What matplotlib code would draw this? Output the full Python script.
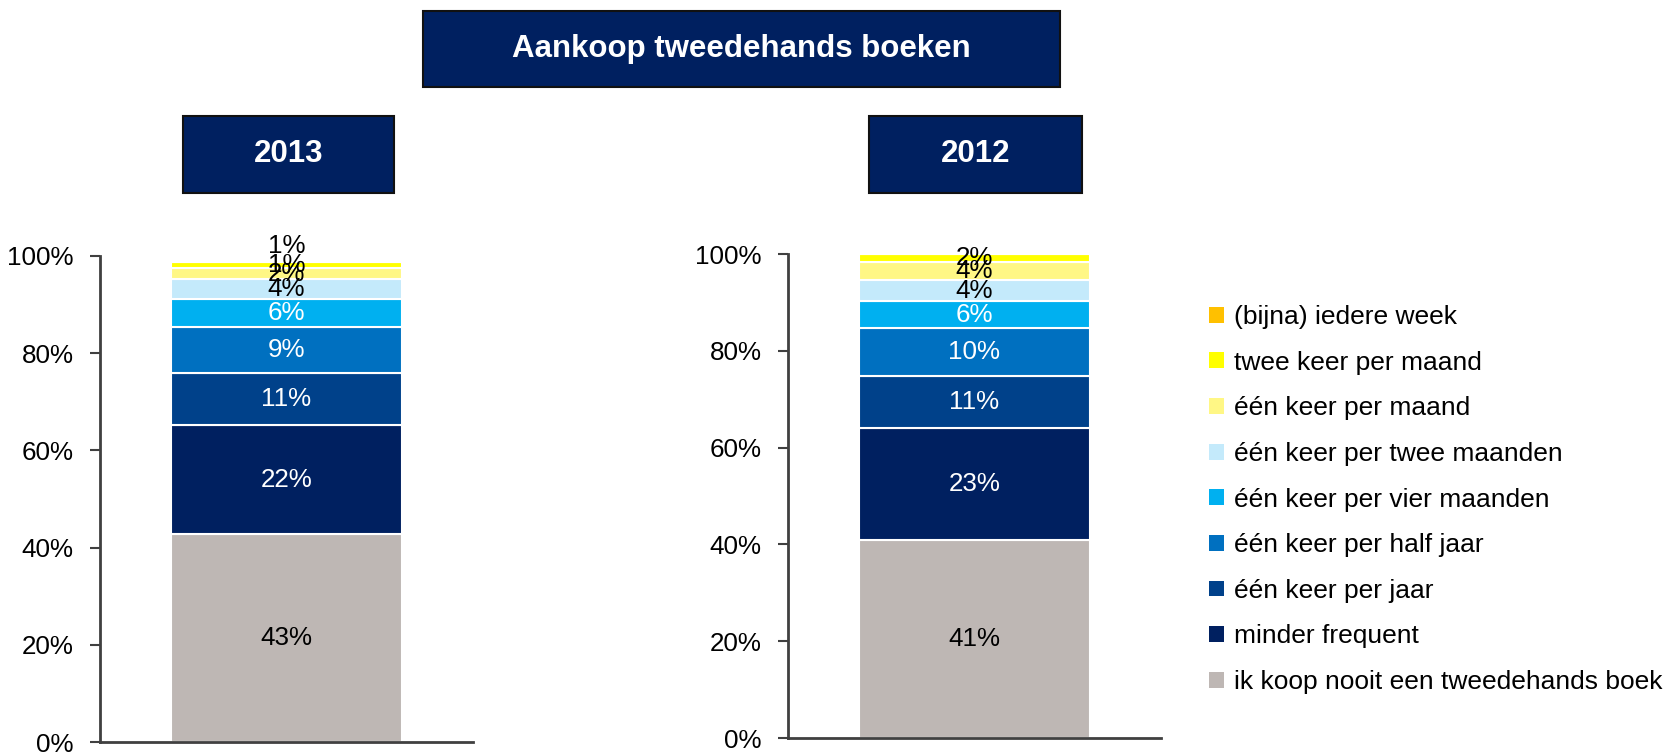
import numpy as np
import matplotlib.pyplot as plt
from matplotlib.patches import Rectangle, Patch

plt.rcParams['font.family'] = ['Liberation Sans', 'DejaVu Sans']

# categories, bottom of the stack first
categories = ['ik koop nooit een tweedehands boek', 'minder frequent', 'één keer per jaar',
              'één keer per half jaar', 'één keer per vier maanden', 'één keer per twee maanden',
              'één keer per maand', 'twee keer per maand', '(bijna) iedere week']
colors = ['#BEB7B4', '#002060', '#00418A', '#0070C0', '#00B0F0', '#C4EAFB',
          '#FFF785', '#FFFF00', '#FFC000']
text_colors = ['black', 'white', 'white', 'white', 'white', 'black', 'black', 'black', 'black']

years = ['2013', '2012']
values_2013 = [42.8, 22.4, 10.7, 9.4, 5.8, 4.1, 2.3, 1.2, 0.3]
values_2012 = [41.0, 23.0, 10.7, 10.0, 5.5, 4.4, 3.8, 1.6, 0.0]
labels_2013 = ['43%', '22%', '11%', '9%', '6%', '4%', '2%', '1%', '1%']
labels_2012 = ['41%', '23%', '11%', '10%', '6%', '4%', '4%', '2%', '']

NAVY = '#002060'
AXCOL = '#404040'
FS = 18.7

fig = plt.figure(figsize=(16.7, 7.52), dpi=100)

def pos(x0, y0, x1, y1):
    # pixel box -> figure fraction
    return [x0 / 1670, 1 - y1 / 752, (x1 - x0) / 1670, (y1 - y0) / 752]

def header(x0, y0, x1, y1, txt, size):
    fig.add_artist(Rectangle((x0 / 1670, 1 - y1 / 752), (x1 - x0) / 1670, (y1 - y0) / 752,
                             transform=fig.transFigure, facecolor=NAVY, edgecolor='#111111',
                             linewidth=1.5))
    fig.text((x0 + x1) / 2 / 1670, 1 - (y0 + y1) / 2 / 752, txt, color='white',
             fontsize=size, fontweight='bold', ha='center', va='center')

header(423, 11, 1060, 87, 'Aankoop tweedehands boeken', 22.5)

panels = [(values_2013, labels_2013, pos(100, 256, 473, 742), (183, 394)),
          (values_2012, labels_2012, pos(788, 254, 1161, 738), (869, 1082))]

for (vals, labs, rect, hx), year in zip(panels, years):
    ax = fig.add_axes(rect)
    bottoms = np.concatenate([[0], np.cumsum(vals)[:-1]])
    ax.bar([0] * len(vals), vals, bottom=bottoms, width=0.62, color=colors,
           edgecolor='white', linewidth=1.5)
    for i, (v, b, lab) in enumerate(zip(vals, bottoms, labs)):
        if not lab:
            continue
        y = b + v / 2
        if i == len(vals) - 1 and v < 1:
            y = b + v + 3
        ax.text(0, y, lab, ha='center', va='center', fontsize=FS,
                color=text_colors[i], clip_on=False)
    ax.set_xlim(-0.5, 0.5)
    ax.set_ylim(0, 100)
    ax.set_yticks(np.arange(0, 101, 20))
    ax.set_yticklabels([f'{t}%' for t in range(0, 101, 20)])
    ax.set_xticks([])
    ax.tick_params(axis='y', labelsize=FS, length=7, width=1.5, color=AXCOL, pad=12)
    for s in ['top', 'right']:
        ax.spines[s].set_visible(False)
    for s in ['left', 'bottom']:
        ax.spines[s].set_color(AXCOL)
        ax.spines[s].set_linewidth(2)
    header(hx[0], 116, hx[1], 193, year, 22.5)

handles = [Patch(facecolor=c, edgecolor='none') for c in colors][::-1]
fig.legend(handles, categories[::-1], loc='upper left', bbox_to_anchor=(1209 / 1670, 1 - 305 / 752),
           frameon=False, fontsize=19, handlelength=0.55, handleheight=0.55,
           handletextpad=0.4, labelspacing=0.82, borderpad=0, borderaxespad=0)

fig.savefig('out.png', dpi=100)
